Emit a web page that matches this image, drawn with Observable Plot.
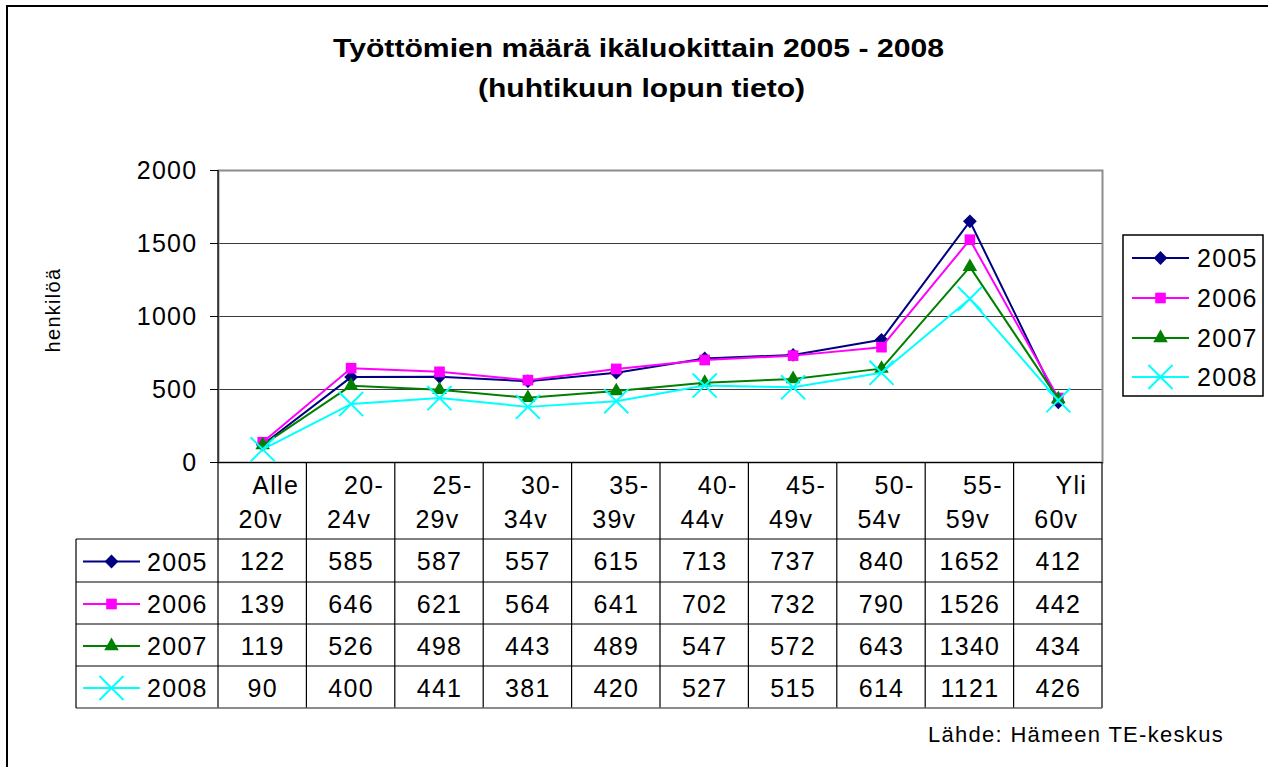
<!DOCTYPE html>
<html><head><meta charset="utf-8">
<script src="https://cdn.jsdelivr.net/npm/d3@7"></script>
<script src="https://cdn.jsdelivr.net/npm/@observablehq/plot@0.6"></script>
<style>
body{margin:0;background:#fff;}
svg{font-family:"Liberation Sans",Arial,sans-serif;}
</style>
</head><body><div id="chart"></div>
<script>
const categories = ["Alle 20v","20-24v","25-29v","30-34v","35-39v","40-44v","45-49v","50-54v","55-59v","Yli 60v"];
const labelLine1 = ["Alle","20-","25-","30-","35-","40-","45-","50-","55-","Yli"];
const labelLine2 = ["20v","24v","29v","34v","39v","44v","49v","54v","59v","60v"];
const years = ["2005","2006","2007","2008"];
const values2005 = [122,585,587,557,615,713,737,840,1652,412];
const values2006 = [139,646,621,564,641,702,732,790,1526,442];
const values2007 = [119,526,498,443,489,547,572,643,1340,434];
const values2008 = [90,400,441,381,420,527,515,614,1121,426];
const yTicks = [0,500,1000,1500,2000];
const titleText = ["Työttömien määrä ikäluokittain 2005 - 2008","(huhtikuun lopun tieto)"];
const yLabel = "henkilöä";
const sourceText = "Lähde: Hämeen TE-keskus";

const series = [values2005, values2006, values2007, values2008];
const colors = ["#000080","#FF00FF","#008000","#00FFFF"];
const symbols = ["diamond2","square","triangle","times"];
const d3symbols = [d3.symbolDiamond2, d3.symbolSquare, d3.symbolTriangle, d3.symbolTimes];
const radii = [6.2, 6.0, 5.4, 11];

const rows = years.flatMap((year, s) => series[s].map((value, i) => ({year, s, i, category: categories[i], value})));

const W = 1268, H = 767;
const mL = 218, mR = 166, mT = 170, mB = 305;
const plotBottom = H - mB;
const rowLines = [539, 582, 624, 666, 708];
const rowCenters = rowLines.slice(0, 4).map((y, k) => (y + rowLines[k + 1]) / 2 + 1);

const marks = [
  Plot.ruleY(yTicks.filter(t => t > 0 && t < 2000), {stroke: "#3a3a3a", strokeWidth: 1}),
  Plot.frame({stroke: "#8c8c8c", strokeWidth: 2}),
  Plot.ruleY([0], {stroke: "#000", strokeWidth: 1.2}),
  Plot.axisY({ticks: yTicks, tickSize: 8, tickPadding: 13, label: null, fontSize: 25, tickFormat: d => String(d)}),
];
years.forEach((year, s) => {
  const data = rows.filter(d => d.s === s);
  marks.push(Plot.line(data, {x: "category", y: "value", stroke: colors[s], strokeWidth: 2}));
  marks.push(Plot.dot(data, {
    x: "category", y: "value", symbol: symbols[s], r: radii[s],
    fill: s === 3 ? "none" : colors[s], stroke: s === 3 ? colors[s] : "none", strokeWidth: 2
  }));
});
// category header (two lines) below the plot
marks.push(Plot.text(categories, {x: d => d, frameAnchor: "bottom", dy: 23, dx: 13, text: (d, i) => labelLine1[i], fontSize: 25, lineAnchor: "middle", fill: "#000"}));
marks.push(Plot.text(categories, {x: d => d, frameAnchor: "bottom", dy: 57, dx: -2, text: (d, i) => labelLine2[i], fontSize: 25, lineAnchor: "middle", fill: "#000"}));
// data table values
years.forEach((year, s) => {
  marks.push(Plot.text(rows.filter(d => d.s === s), {
    x: "category", frameAnchor: "bottom", dy: rowCenters[s] - plotBottom,
    text: d => String(d.value), fontSize: 25, lineAnchor: "middle", fill: "#000"
  }));
});

const plot = Plot.plot({
  width: W, height: H,
  marginLeft: mL, marginRight: mR, marginTop: mT, marginBottom: mB,
  style: {fontFamily: "Liberation Sans, Arial, sans-serif", fontSize: "25px", color: "#000", background: "#fff", overflow: "visible", letterSpacing: "1.3px"},
  x: {type: "band", domain: categories, padding: 0, round: false, axis: null},
  y: {domain: [0, 2000], axis: null},
  marks
});

const svg = d3.select(plot);
const xs = plot.scale("x");
const x0 = xs.range[0], x1 = xs.range[1];
const step = (x1 - x0) / categories.length;
const tableLeft = 76;
const g = svg.append("g").attr("fill", "none");

// left axis line extended into table
g.append("line").attr("x1", x0).attr("x2", x0).attr("y1", mT).attr("y2", rowLines[4]).attr("stroke", "#000").attr("stroke-width", 1.2);
// vertical column lines of table
d3.range(1, categories.length + 1).forEach(k => {
  g.append("line").attr("x1", x0 + k * step).attr("x2", x0 + k * step)
    .attr("y1", plotBottom).attr("y2", rowLines[4]).attr("stroke", "#000").attr("stroke-width", 1.2);
});
// horizontal table lines
rowLines.forEach((y, k) => {
  g.append("line").attr("x1", tableLeft).attr("x2", x1).attr("y1", y).attr("y2", y)
    .attr("stroke", k === 4 ? "#666" : "#000").attr("stroke-width", k === 4 ? 1.6 : 1.2);
});
g.append("line").attr("x1", tableLeft).attr("x2", tableLeft).attr("y1", rowLines[0]).attr("y2", rowLines[4]).attr("stroke", "#000").attr("stroke-width", 1.2);

function keyEntry(parent, s, lx0, lx1, cy, tx) {
  parent.append("line").attr("x1", lx0).attr("x2", lx1).attr("y1", cy).attr("y2", cy)
    .attr("stroke", colors[s]).attr("stroke-width", 2);
  const size = Math.PI * radii[s] * radii[s];
  parent.append("path").attr("d", d3.symbol(d3symbols[s], size)())
    .attr("transform", `translate(${(lx0 + lx1) / 2},${cy})`)
    .attr("fill", s === 3 ? "none" : colors[s]).attr("stroke", s === 3 ? colors[s] : "none").attr("stroke-width", 2);
  parent.append("text").attr("x", tx).attr("y", cy).attr("dy", "0.36em")
    .attr("text-anchor", "start").attr("fill", "#000").attr("font-size", 25).text(years[s]);
}
// row labels of table
years.forEach((y, s) => keyEntry(svg, s, 83, 140, rowCenters[s], 147));

// legend
svg.append("rect").attr("x", 1123).attr("y", 235).attr("width", 140).attr("height", 161)
  .attr("fill", "#fff").attr("stroke", "#000").attr("stroke-width", 1.5);
[258, 298, 338, 377].forEach((cy, s) => keyEntry(svg, s, 1132, 1189, cy, 1197));

// title
svg.append("text").attr("x", 333).attr("y", 57).attr("text-anchor", "start")
  .attr("font-weight", "bold").attr("font-size", 26).attr("fill", "#000")
  .attr("letter-spacing", 0).attr("textLength", 611).attr("lengthAdjust", "spacingAndGlyphs").text(titleText[0]);
svg.append("text").attr("x", 478).attr("y", 97).attr("text-anchor", "start")
  .attr("font-weight", "bold").attr("font-size", 26).attr("fill", "#000")
  .attr("letter-spacing", 0).attr("textLength", 327).attr("lengthAdjust", "spacingAndGlyphs").text(titleText[1]);
// y label
svg.append("text").attr("transform", "translate(60,310) rotate(-90)").attr("text-anchor", "middle")
  .attr("font-size", 20).attr("fill", "#000").text(yLabel);
// source
svg.append("text").attr("x", 1224).attr("y", 742).attr("text-anchor", "end")
  .attr("font-size", 22).attr("fill", "#000").text(sourceText);
// outer border
svg.append("rect").attr("x", 7).attr("y", 6).attr("width", W + 20).attr("height", H + 20)
  .attr("fill", "none").attr("stroke", "#000").attr("stroke-width", 2);

document.getElementById("chart").appendChild(plot);
</script>
</body></html>
